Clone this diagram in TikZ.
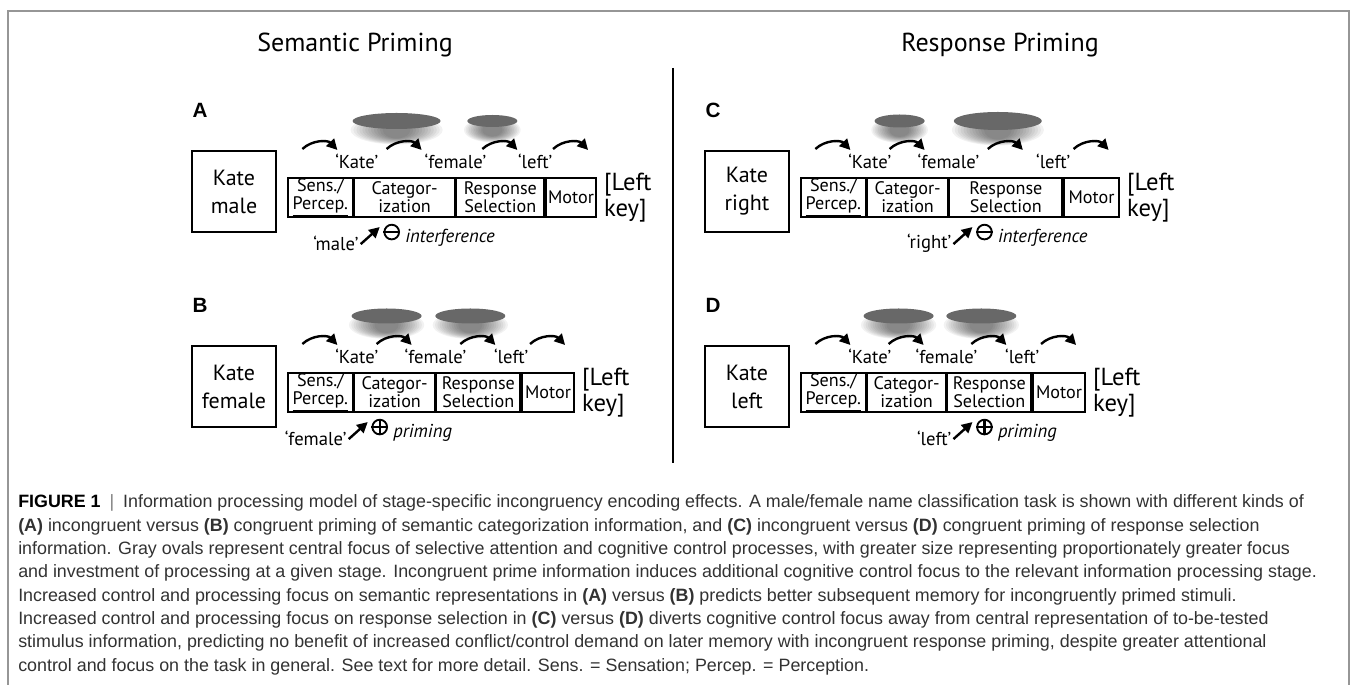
\documentclass[tikz,border=0pt]{standalone}
\usepackage{fontspec}
\setmainfont{PT Sans}
\newfontfamily\capfont{Liberation Sans}
\usetikzlibrary{positioning,arrows.meta,calc}
\definecolor{ovalgray}{RGB}{104,104,104}
\definecolor{capgray}{RGB}{50,50,50}
\definecolor{framegray}{RGB}{150,150,150}
\tikzset{
  stimbox/.style={draw,line width=1.9pt,minimum width=63pt,minimum height=60.75pt,
    inner sep=0pt,align=center,font=\fontsize{16.5}{21}\selectfont},
  stagecell/.style={draw,line width=1.3pt,minimum width=#1*0.75pt,minimum height=29.5pt,
    inner sep=0pt,anchor=north west,align=center,font=\fontsize{13.6}{13.4}\selectfont},
  outlabel/.style={inner sep=0pt,font=\fontsize{14}{15}\selectfont},
  keytext/.style={inner sep=0pt,anchor=west,align=left,font=\fontsize{18.5}{19}\selectfont},
  flowarrow/.style={line width=1.8pt,-{Triangle[length=8pt,width=8pt]}},
  signcirc/.style={draw,circle,line width=1.4pt,minimum size=11pt,inner sep=0pt},
  paneltag/.style={inner sep=0pt,font=\capfont\bfseries\fontsize{15.5}{16}\selectfont},
  titletext/.style={inner sep=0pt,font=\fontsize{19.5}{24}\selectfont},
  caprow/.style={anchor=base west,inner sep=0pt,text=capgray,font=\capfont\fontsize{13.4}{15}\selectfont}
}
\begin{document}
\begin{tikzpicture}[x=0.75pt,y=0.75pt]
\useasboundingbox (0,0) rectangle (1356,685);
\draw[framegray,line width=0.8pt] (8,0) -- (8,674) -- (1349,674) -- (1349,0);
\node[titletext] (semtitle) at (355,640) {Semantic Priming};
\node[titletext] (resptitle) at (1000,640) {Response Priming};
\coordinate (divtop) at (673,617);
\coordinate (divbot) at (673,222);
\draw[line width=1.5pt] (divtop) -- (divbot);
\foreach \p/\ox/\oy/\stim/\wc/\wr/\wm/\rc/\qc/\rr/\qr/\sgv/\eff/\tg/\so in {
    A/287/508/male/100/88/50/44/8/25/6/0/interference/c/38,
    B/287/313/female/80/84/52/35/7.5/35/7.5/1/priming/c/26,
    C/800/508/right/80/113/55/25/6.5/44/9/0/interference/r/36,
    D/800/313/left/78/84/52/35/7.5/35/7.5/1/priming/r/38}{
  \node[paneltag] (\p-tag) at (\ox-87,\oy+67) {\p};
  \node[stimbox] (\p-stim) at (\ox-53,\oy-14.5) {Kate\\\stim};
  \node[stagecell=65] (\p-s) at (\ox,\oy) {Sens./\\\underline{Percep.}};
  \node[stagecell=\wc] (\p-c) at (\p-s.north east) {Categor-\\ization};
  \node[stagecell=\wr] (\p-r) at (\p-c.north east) {Response\\Selection};
  \node[stagecell=\wm] (\p-m) at (\p-r.north east) {Motor};
  \node[keytext] (\p-key) at ($(\p-m.east)+(7,0)$) {[Left\\key]};
  \node[outlabel] (\p-o1) at ($(\p-s.north east)+(3,16)$) {‘Kate’};
  \node[outlabel] (\p-o2) at ($(\p-c.north east)+(0,16)$) {‘female’};
  \node[outlabel] (\p-o3) at ($(\p-r.north east)+(-10,16)$) {‘left’};
  \foreach \x in {s,c,r,m}{
    \coordinate (\p-\x-a) at ($(\p-\x.north)+(-18,28)$);
    \coordinate (\p-\x-b) at ($(\p-\x.north)+(17,27)$);
    \draw[flowarrow] (\p-\x-a) to[bend left=45] (\p-\x-b);
  }
  \foreach \cc/\rx/\ry in {c/\rc/\qc,r/\rr/\qr}{
    \coordinate (\p-f\cc) at ($(\p-\cc.north)+(-8,56)$);
    \foreach \k in {1,...,12}
      \fill[black,opacity=0.05] ($(\p-f\cc)+(0,-9)$) ellipse [x radius=\rx+5-\k*\rx/15,y radius=\ry+7-\k*0.55];
    \fill[ovalgray] (\p-f\cc) ellipse [x radius=\rx,y radius=\ry];
  }
  \node[signcirc] (\p-sign) at ($(\p-\tg.south west)+(\so,-14)$) {};
  \draw[line width=1.6pt] (\p-sign.west) -- (\p-sign.east);
  \ifnum\sgv=1 \draw[line width=1.6pt] (\p-sign.north) -- (\p-sign.south); \fi
  \node[outlabel,anchor=east] (\p-prime) at ($(\p-\tg.south west)+(\so-33,-25)$) {‘\stim’};
  \coordinate (\p-hit) at ($(\p-\tg.south west)+(\so-12,-9)$);
  \draw[flowarrow] ($(\p-prime.east)+(2,-1)$) -- (\p-hit);
  \node[outlabel,anchor=west] (\p-eff) at ($(\p-sign.east)+(5,-6)$) {\itshape\eff};
}
\foreach \t [count=\i] in {
  {\textbf{\color{black}FIGURE 1}\hspace{0.5em}{\color{gray}|}\hspace{0.5em}Information processing model of stage-specific incongruency encoding effects. A male/female name classification task is shown with different kinds of},
  {\textbf{(A)} incongruent versus \textbf{(B)} congruent priming of semantic categorization information, and \textbf{(C)} incongruent versus \textbf{(D)} congruent priming of response selection},
  {information. Gray ovals represent central focus of selective attention and cognitive control processes, with greater size representing proportionately greater focus},
  {and investment of processing at a given stage. Incongruent prime information induces additional cognitive control focus to the relevant information processing stage.},
  {Increased control and processing focus on semantic representations in \textbf{(A)} versus \textbf{(B)} predicts better subsequent memory for incongruently primed stimuli.},
  {Increased control and processing focus on response selection in \textbf{(C)} versus \textbf{(D)} diverts cognitive control focus away from central representation of to-be-tested},
  {stimulus information, predicting no benefit of increased conflict/control demand on later memory with incongruent response priming, despite greater attentional},
  {control and focus on the task in general. See text for more detail. Sens. = Sensation; Percep. = Perception.}}
  \node[caprow] (cap-\i) at (18,177-23.3*\i+23.3) {\t};
\end{tikzpicture}
\end{document}
